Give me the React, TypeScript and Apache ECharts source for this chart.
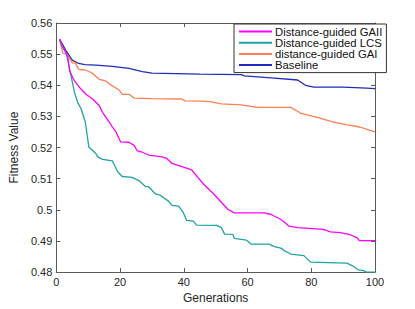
import React, { useEffect, useRef } from "react";
import * as echarts from "echarts";

const seriesNames = ["Distance-guided GAII", "Distance-guided LCS", "distance-guided GAI", "Baseline"];
const seriesColors = ["#FF00FF", "#1FA3A3", "#FF7F50", "#1F2DBA"];

const gaii: [number, number][] = [
  [1, 0.5548], [2.6, 0.5514], [3.6, 0.5491], [4.2, 0.5445], [5.7, 0.5414], [7.3, 0.5393], [9.3, 0.5371],
  [11.4, 0.5356], [13.5, 0.5334], [14.5, 0.5313], [16.6, 0.5282], [17.6, 0.5266], [18.7, 0.525], [20.2, 0.5218],
  [22.8, 0.5217], [24.4, 0.5207], [25.4, 0.5189], [27, 0.5185], [29, 0.5176], [33.2, 0.517], [34.7, 0.5165],
  [36.3, 0.5149], [39.4, 0.5139], [42.5, 0.5128], [44.6, 0.5102], [46.6, 0.5078], [48.7, 0.5058], [53.9, 0.5001],
  [55.9, 0.499], [65.3, 0.499], [67.4, 0.4985], [70.5, 0.4969], [73, 0.4948], [75.7, 0.4943], [83.9, 0.4937],
  [86, 0.4929], [89.1, 0.4927], [92.2, 0.492], [94.3, 0.4911], [95.1, 0.4901], [100, 0.4901],
];

const lcs: [number, number][] = [
  [1, 0.5548], [2, 0.552], [3.1, 0.5504], [4.2, 0.5451], [5.7, 0.5377], [6.7, 0.5345], [7.8, 0.5324],
  [9.1, 0.5282], [10.2, 0.5202], [12.4, 0.5181], [13, 0.517], [14.5, 0.5162], [17.6, 0.5157], [19.2, 0.5123],
  [20.7, 0.5107], [23.8, 0.5104], [25.9, 0.5094], [28, 0.5075], [29, 0.5074], [31.1, 0.5051], [32.6, 0.5047],
  [35.2, 0.5028], [36.3, 0.5014], [38.4, 0.5012], [39.9, 0.499], [40.9, 0.4966], [43, 0.4964], [44, 0.4951],
  [50.3, 0.495], [51.8, 0.4943], [52.8, 0.4922], [55.4, 0.4921], [55.9, 0.4908], [59.6, 0.4903], [61.1, 0.489],
  [66.8, 0.489], [68.4, 0.4882], [70.5, 0.4877], [71.5, 0.4869], [73.6, 0.4858], [77.7, 0.4853], [79.8, 0.4832],
  [91.2, 0.4829], [92.8, 0.4821], [94.8, 0.4807], [96.4, 0.4805], [97.4, 0.48], [100, 0.48],
];

const gai: [number, number][] = [
  [1, 0.5548], [2, 0.5504], [3, 0.5501], [4, 0.549], [5, 0.5472], [6, 0.5471], [7, 0.5451], [9, 0.5449],
  [11, 0.5441], [13.5, 0.5419], [15.5, 0.5414], [17.6, 0.5398], [19.7, 0.5385], [20.7, 0.5371], [22.8, 0.5371],
  [24.4, 0.5359], [30, 0.5357], [39.4, 0.5356], [40.4, 0.535], [45.6, 0.5349], [48.7, 0.5347], [51.8, 0.534],
  [58, 0.5337], [63.2, 0.5329], [73.6, 0.5329], [76.7, 0.531], [81.9, 0.5297], [87, 0.5282], [91.2, 0.5273],
  [95.3, 0.5266], [98.4, 0.5255], [100, 0.525],
];

const baseline: [number, number][] = [
  [1, 0.5548], [3, 0.5512], [5, 0.5481], [7, 0.547], [9, 0.5466], [12.4, 0.5465], [17.6, 0.5461],
  [22.8, 0.5454], [27, 0.5444], [30, 0.5439], [45, 0.5436], [58, 0.5434], [59, 0.543], [67.4, 0.5424],
  [75.7, 0.5417], [78.2, 0.54], [80.8, 0.5394], [90, 0.5394], [97.4, 0.5391], [100, 0.5389],
];

const allSeries = [gaii, lcs, gai, baseline];

const xTicks = { min: 0, max: 100, interval: 20 };
const yTicks = { min: 0.48, max: 0.56, interval: 0.01 };

const FONT = "Liberation Sans, Arial, Helvetica, sans-serif";
const AXIS_COLOR = "#5a5a5a";
const TEXT_COLOR = "#262626";

export default function App() {
  const ref = useRef<HTMLDivElement>(null);
  useEffect(() => {
    if (!ref.current) return;
    const chart = echarts.init(ref.current, undefined, { renderer: "svg" });
    const axisLine = { show: true, onZero: false, lineStyle: { color: AXIS_COLOR, width: 1 } };
    const axisTick = { show: true, inside: true, length: 4, lineStyle: { color: AXIS_COLOR } };
    chart.setOption({
      animation: false,
      backgroundColor: "#ffffff",
      textStyle: { fontFamily: FONT },
      grid: { left: 53.3, right: 40, top: 23, bottom: 34, containLabel: false },
      legend: {
        data: seriesNames,
        orient: "vertical",
        left: 234,
        top: 24,
        width: 141,
        padding: [2, 4, 2, 5],
        itemGap: 0.2,
        itemWidth: 33,
        itemHeight: 2,
        icon: "rect",
        backgroundColor: "#ffffff",
        borderColor: "#333333",
        borderWidth: 1,
        borderRadius: 0,
        textStyle: { fontFamily: FONT, fontSize: 11.3, color: "#111111", lineHeight: 10, padding: [0, 0, 0, -2] },
      },
      xAxis: [
        {
          type: "value",
          position: "bottom",
          min: xTicks.min,
          max: xTicks.max,
          interval: xTicks.interval,
          name: "Generations",
          nameLocation: "middle",
          nameGap: 15,
          nameTextStyle: { fontFamily: FONT, fontSize: 12, color: TEXT_COLOR },
          axisLine,
          axisTick,
          splitLine: { show: false },
          axisLabel: { fontFamily: FONT, fontSize: 11, color: TEXT_COLOR, margin: 4 },
        },
        {
          type: "value",
          position: "top",
          min: xTicks.min,
          max: xTicks.max,
          interval: xTicks.interval,
          axisLine,
          axisTick,
          splitLine: { show: false },
          axisLabel: { show: false },
        },
      ],
      yAxis: [
        {
          type: "value",
          position: "left",
          min: yTicks.min,
          max: yTicks.max,
          interval: yTicks.interval,
          name: "Fitness Value",
          nameLocation: "middle",
          nameGap: 27,
          nameTextStyle: { fontFamily: FONT, fontSize: 12, color: TEXT_COLOR },
          axisLine,
          axisTick,
          splitLine: { show: false },
          axisLabel: {
            fontFamily: FONT,
            fontSize: 11,
            color: TEXT_COLOR,
            margin: 4,
            formatter: (v: number) => String(parseFloat(v.toFixed(2))),
          },
        },
        {
          type: "value",
          position: "right",
          min: yTicks.min,
          max: yTicks.max,
          interval: yTicks.interval,
          axisLine,
          axisTick,
          splitLine: { show: false },
          axisLabel: { show: false },
        },
      ],
      series: allSeries.map((d, i) => ({
        name: seriesNames[i],
        type: "line",
        data: d,
        xAxisIndex: 0,
        yAxisIndex: 0,
        showSymbol: false,
        symbol: "none",
        lineStyle: { color: seriesColors[i], width: 1.3 },
        itemStyle: { color: seriesColors[i] },
        z: 10 - i,
      })),
    });
    return () => chart.dispose();
  }, []);
  return <div ref={ref} style={{ position: "absolute", left: 0, top: 0, width: 415, height: 309 }} />;
}
